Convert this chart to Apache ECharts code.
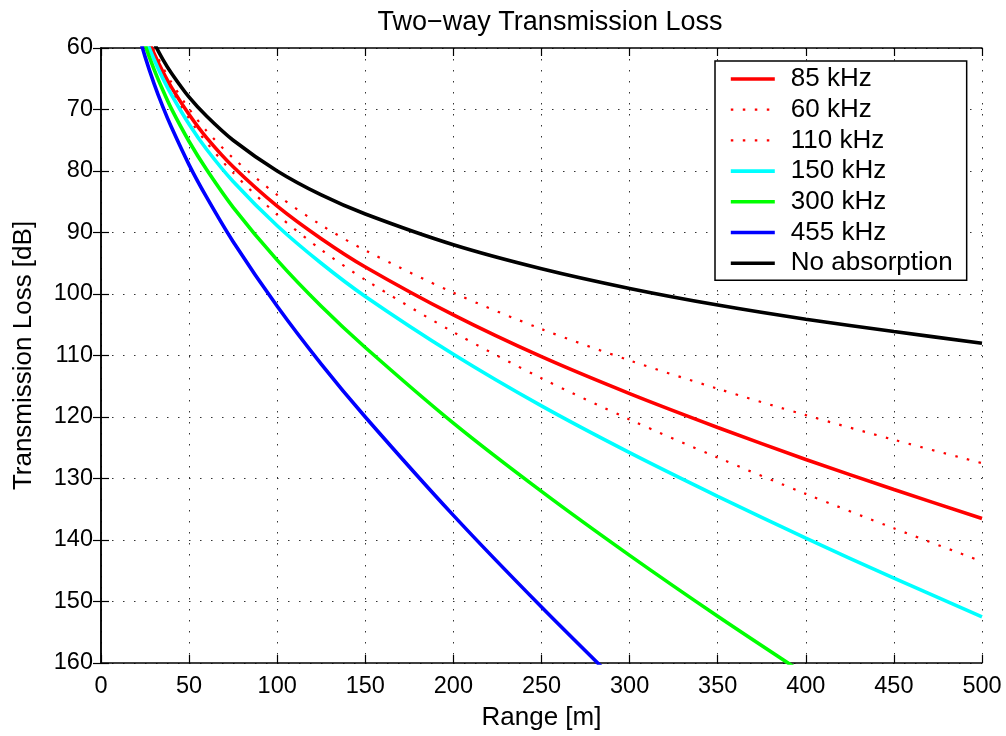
<!DOCTYPE html>
<html>
<head>
<meta charset="utf-8">
<script src="https://cdn.jsdelivr.net/npm/echarts@6/dist/echarts.min.js"></script>
<style>
  html, body { margin: 0; padding: 0; background: #fff; }
  #chart { width: 1006px; height: 736px; }
</style>
</head>
<body>
<div id="chart"></div>
<script>
// range samples [m]
const ranges = [20, 25, 30, 35, 40, 50, 60, 75, 100, 125, 150, 200, 250, 300, 350, 400, 450, 500];

// two-way transmission loss [dB]
const tl85 = [53.2, 57.4, 60.8, 63.8, 66.4, 70.8, 74.6, 79.3, 85.7, 91.0, 95.6, 103.4, 110.2, 116.2, 121.7, 126.9, 131.8, 136.5];
const tl60 = [52.8, 56.9, 60.3, 63.1, 65.6, 69.9, 73.5, 77.9, 83.9, 88.8, 92.9, 99.8, 105.7, 110.8, 115.4, 119.7, 123.7, 127.5];
const tl110 = [53.5, 57.7, 61.2, 64.3, 66.9, 71.5, 75.4, 80.3, 87.1, 92.8, 97.7, 106.2, 113.7, 120.4, 126.6, 132.5, 138.1, 143.5];
const tl150 = [53.8, 58.2, 61.8, 64.9, 67.6, 72.4, 76.5, 81.7, 88.9, 95.0, 100.4, 109.8, 118.2, 125.8, 132.9, 139.7, 146.2, 152.5];
const tl300 = [54.9, 59.5, 63.4, 66.8, 69.9, 75.2, 79.8, 85.9, 94.5, 102.0, 108.7, 121.0, 132.1, 142.5, 152.4, 161.9];
const tl455 = [56.4, 61.4, 65.7, 69.5, 72.9, 79.0, 84.3, 91.5, 102.0, 111.4, 120.0, 136.0, 150.9, 165.1];
const tlNone = [52.0, 55.9, 59.1, 61.8, 64.1, 68.0, 71.1, 75.0, 80.0, 83.9, 87.0, 92.0, 95.9, 99.1, 101.8, 104.1, 106.1, 108.0];

const legendNames = ["85 kHz", "60 kHz", "110 kHz", "150 kHz", "300 kHz", "455 kHz", "No absorption"];

const xTicks = { min: 0, max: 500, interval: 50 };
const yTicks = { min: 60, max: 160, interval: 10 };

const font = "'Liberation Sans', Arial, Helvetica, sans-serif";

function pairs(vals) {
  return vals.map((v, i) => [ranges[i], v]);
}

function lineStyleFor(color, dotted) {
  return dotted
    ? { color: color, width: 2.2, type: [2.5, 9.5], cap: "butt" }
    : { color: color, width: 3.6, type: "solid" };
}

function mkLine(name, vals, color, dotted) {
  return {
    name: name,
    type: "line",
    data: pairs(vals),
    symbol: "none",
    smooth: 0.3,
    clip: true,
    color: color,
    lineStyle: lineStyleFor(color, dotted),
  };
}

const chart = echarts.init(document.getElementById("chart"), null, { renderer: "canvas" });

const axisLine = { show: true, lineStyle: { color: "#000", width: 1.5 } };
const insideTick = { show: true, inside: true, length: 8, lineStyle: { color: "#000", width: 1.2 } };
const gridDots = { show: true, lineStyle: { color: "#333", width: 1, type: [1.5, 9.5] } };

const series = [
  mkLine("85 kHz", tl85, "#ff0000", false),
  mkLine("60 kHz", tl60, "#ff0000", true),
  mkLine("110 kHz", tl110, "#ff0000", true),
  mkLine("150 kHz", tl150, "#00ffff", false),
  mkLine("300 kHz", tl300, "#00ff00", false),
  mkLine("455 kHz", tl455, "#0000ff", false),
  mkLine("No absorption", tlNone, "#000000", false),
];

const option = {
  animation: false,
  backgroundColor: "#fff",
  textStyle: { fontFamily: font },
  title: {
    text: "Two\u2212way Transmission Loss",
    left: 545,
    top: 4,
    textAlign: "center",
    textStyle: { fontFamily: font, fontSize: 27, fontWeight: "normal", color: "#000" },
  },
  grid: { left: 101, right: 24, top: 48, bottom: 72 },
  legend: {
    orient: "vertical",
    left: 715,
    top: 61,
    padding: [5, 14, 4, 14],
    backgroundColor: "#fff",
    borderColor: "#000",
    borderWidth: 1.5,
    itemWidth: 44,
    itemHeight: 20,
    itemGap: 4.7,
    itemStyle: { opacity: 0 },
    textStyle: { fontFamily: font, fontSize: 26, color: "#000", lineHeight: 26, padding: [0, 0, 0, 11] },
    data: legendNames.map((n) => {
      const s = series.find((x) => x.name === n);
      return { name: n, lineStyle: s.lineStyle };
    }),
  },
  xAxis: [
    {
      type: "value",
      min: xTicks.min,
      max: xTicks.max,
      interval: xTicks.interval,
      name: "Range [m]",
      nameLocation: "middle",
      nameGap: 42,
      nameTextStyle: { fontFamily: font, fontSize: 26, color: "#000" },
      axisLine: axisLine,
      axisTick: insideTick,
      axisLabel: { fontFamily: font, fontSize: 23.5, color: "#000", margin: 12 },
      splitLine: gridDots,
    },
    {
      type: "value",
      position: "top",
      min: xTicks.min,
      max: xTicks.max,
      interval: xTicks.interval,
      axisLine: axisLine,
      axisTick: insideTick,
      axisLabel: { show: false },
      splitLine: { show: false },
    },
  ],
  yAxis: [
    {
      type: "value",
      inverse: true,
      min: yTicks.min,
      max: yTicks.max,
      interval: yTicks.interval,
      name: "Transmission Loss [dB]",
      nameLocation: "middle",
      nameGap: 64,
      nameTextStyle: { fontFamily: font, fontSize: 26, color: "#000" },
      axisLine: axisLine,
      axisTick: insideTick,
      axisLabel: { fontFamily: font, fontSize: 23.5, color: "#000", margin: 8 },
      splitLine: gridDots,
    },
    {
      type: "value",
      position: "right",
      inverse: true,
      min: yTicks.min,
      max: yTicks.max,
      interval: yTicks.interval,
      axisLine: axisLine,
      axisTick: insideTick,
      axisLabel: { show: false },
      splitLine: { show: false },
    },
  ],
  series: series,
};

chart.setOption(option);
</script>
</body>
</html>
